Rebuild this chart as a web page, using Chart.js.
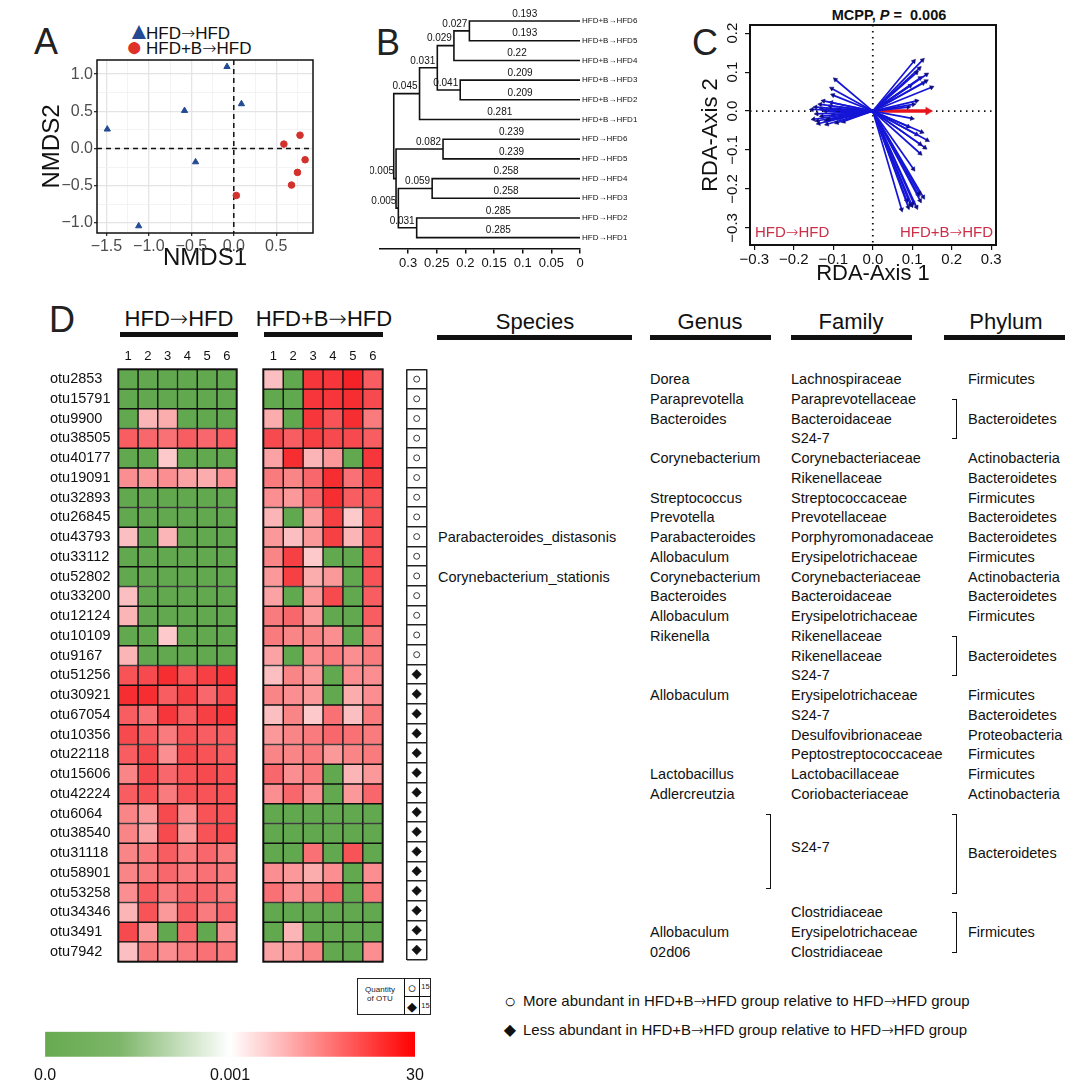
<!DOCTYPE html>
<html>
<head>
<meta charset="utf-8">
<script src="https://cdn.jsdelivr.net/npm/chart.js@4.4.1/dist/chart.umd.min.js"></script>
<style>
  html, body { margin: 0; padding: 0; background: #fff; }
  #page { position: relative; width: 1080px; height: 1092px; overflow: hidden;
          font-family: "Liberation Sans", Arial, "DejaVu Sans", sans-serif; color: #111; }
  #page canvas { position: absolute; }
  .txt { position: absolute; white-space: nowrap; line-height: 1; }
  .arr { font-family: "DejaVu Sans", sans-serif; font-weight: 200; }
  .rule { position: absolute; background: #111; }
  .brk { position: absolute; box-sizing: border-box; border: 1.5px solid #111; border-left: none; width: 5px; }
</style>
</head>
<body>
<div id="page"></div>
<script>
// ---- A: NMDS ----
const nmdsHfdX = [-1.49, -1.12, -0.58, -0.45, -0.08, 0.09];
const nmdsHfdY = [0.26, -1.04, 0.51, -0.18, 1.10, 0.60];
const nmdsHfdbX = [0.03, 0.59, 0.78, 0.84, 0.75, 0.68];
const nmdsHfdbY = [-0.63, 0.06, 0.18, -0.15, -0.32, -0.49];

// ---- B: dendrogram (merges like hclust, leaves 0-11, merge k makes node 12+k) ----
const leafNames = ["HFD+B\u2192HFD6", "HFD+B\u2192HFD5", "HFD+B\u2192HFD4", "HFD+B\u2192HFD3", "HFD+B\u2192HFD2", "HFD+B\u2192HFD1",
  "HFD\u2192HFD6", "HFD\u2192HFD5", "HFD\u2192HFD4", "HFD\u2192HFD3", "HFD\u2192HFD2", "HFD\u2192HFD1"];
const mergeA = [0, 12, 3, 13, 15, 6, 8, 10, 18, 17, 16];
const mergeB = [1, 2, 4, 14, 5, 7, 9, 11, 19, 20, 21];
const branchA = [0.193, 0.027, 0.209, 0.029, 0.031, 0.239, 0.258, 0.285, 0.059, 0.082, 0.045];
const branchB = [0.193, 0.22, 0.209, 0.041, 0.281, 0.239, 0.258, 0.285, 0.031, 0.005, 0.005];

// ---- C: RDA biplot, arrow tips ----
const rdaOtuX = [0.104, 0.126, 0.111, 0.136, 0.135, 0.149, 0.128, 0.120, 0.111, 0.103, 0.090, 0.118, 0.095,
  0.099, 0.124, 0.138, 0.120, 0.132, 0.120, 0.111, 0.103, 0.090,
  0.118, 0.128, 0.120, 0.099, 0.111, 0.090, 0.073, 0.103, 0.086, 0.115, 0.095,
  -0.095, -0.104, -0.101, -0.125, -0.133, -0.154, -0.142, -0.129, -0.112, -0.091, -0.137, -0.116,
  -0.074, -0.150, -0.108, -0.087, -0.120, -0.145, -0.100, -0.130, -0.085, -0.118, -0.140, -0.105];
const rdaOtuY = [0.128, 0.131, 0.099, 0.094, 0.077, 0.061, 0.072, 0.085, 0.026, 0.017, 0.010, 0.110, 0.065,
  -0.019, -0.054, -0.075, -0.085, -0.094, -0.109, -0.060, -0.149, -0.040,
  -0.211, -0.221, -0.230, -0.242, -0.247, -0.247, -0.253, -0.236, -0.230, -0.215, -0.240,
  0.081, 0.058, 0.041, 0.026, 0.017, 0.004, -0.007, -0.013, -0.021, -0.030, -0.032, -0.034,
  -0.027, -0.021, 0.013, 0.000, 0.000, 0.010, -0.010, 0.005, -0.018, -0.025, -0.025, 0.022];
const rdaGroupX = [0.14];
const rdaGroupY = [0.0];

// ---- D: heatmaps ----
const sampleLabels = ["1", "2", "3", "4", "5", "6"];
const otuIds = ["otu2853", "otu15791", "otu9900", "otu38505", "otu40177", "otu19091", "otu32893", "otu26845",
  "otu43793", "otu33112", "otu52802", "otu33200", "otu12124", "otu10109", "otu9167", "otu51256", "otu30921",
  "otu67054", "otu10356", "otu22118", "otu15606", "otu42224", "otu6064", "otu38540", "otu31118", "otu58901",
  "otu53258", "otu34346", "otu3491", "otu7942"];
// colour level: 0 = green, 1..10 = pale pink .. deep red
const hfdHeat = [
  [0, 0, 0, 0, 0, 0], [0, 0, 0, 0, 0, 0], [0, 2, 2.5, 0, 0, 0], [6.5, 6, 5.5, 6.5, 6, 6.5],
  [0, 0, 1, 0, 0, 0], [4, 3.5, 4, 3, 2.5, 4], [0, 0, 0, 0, 0, 0], [0, 0, 0, 0, 0, 0],
  [1.5, 0, 2, 0, 0, 0], [0, 0, 0, 0, 0, 0], [0, 0, 0, 0, 0, 0], [1.5, 0, 0, 0, 0, 0],
  [2, 0, 0, 0, 0, 0], [0, 0, 1, 0, 0, 0], [2, 0, 0, 0, 0, 0], [7, 7.5, 9, 7, 8, 8.5],
  [9, 9, 6.5, 8, 6, 7.5], [6.5, 5.5, 8.5, 6.5, 8, 8.5], [7.5, 6.5, 5, 7, 6.5, 6.5], [6.5, 7.5, 4, 7.5, 7, 6.5],
  [4.5, 7.5, 6, 7, 7.5, 7], [6.5, 7, 5, 7, 7, 7], [4.5, 3.5, 7.5, 4, 7, 7], [4.5, 3, 7.5, 3.5, 7, 7.5],
  [4.5, 5, 6.5, 5, 6, 5], [4.5, 5, 6, 5, 5.5, 5], [4, 6.5, 5, 6, 6, 5], [2, 7, 3.5, 6.5, 5, 6],
  [7.5, 3.5, 0, 6, 0, 4], [1.5, 5, 4, 5, 5.5, 5]];
const hfdbHeat = [
  [1.5, 0, 8.5, 8.5, 9.5, 6.5], [0, 0, 8.5, 8.5, 9, 7.5], [2.5, 0, 8.5, 7, 9, 5], [7.5, 6.5, 8, 7.5, 7.5, 6.5],
  [3, 9, 2, 3.5, 0, 8.5], [5, 4.5, 6, 9, 5.5, 8], [4, 3.5, 6, 9, 6.5, 7], [2, 0, 3, 8, 1, 7],
  [3.5, 1.5, 3.5, 8, 2, 7], [4.5, 8, 1, 0, 0, 7], [3.5, 8, 2.5, 3.5, 0, 7], [3, 0, 3.5, 7.5, 0, 6.5],
  [5, 6, 3.5, 0, 0, 6.5], [5, 4.5, 4.5, 4, 0, 5], [3, 0, 4, 5, 4, 5], [1.5, 4.5, 3.5, 0, 4, 4],
  [4.5, 4, 3.5, 0, 2.5, 4], [1.5, 4.5, 1, 5.5, 1.5, 5], [3.5, 4.5, 5, 6, 5.5, 5], [4.5, 4.5, 5, 3.5, 4.5, 5],
  [6, 4, 5, 0, 2, 3.5], [4, 6, 4, 0, 3.5, 6], [0, 0, 0, 0, 0, 0], [0, 0, 0, 0, 0, 0],
  [0, 0, 5.5, 0, 7, 0], [4, 3.5, 2.5, 4, 0, 4], [5.5, 4, 4.5, 6, 0, 5], [0, 0, 0, 0, 0, 0],
  [0, 2, 0, 0, 0, 0], [3, 3.5, 4.5, 0, 0, 4]];
// true = more abundant in HFD+B->HFD
const moreAbundant = otuIds.map((_, i) => i < 15);

const speciesNames = ["", "", "", "", "", "", "", "", "Parabacteroides_distasonis", "", "Corynebacterium_stationis",
  "", "", "", "", "", "", "", "", "", "", "", "", "", "", "", "", "", "", ""];
const genusNames = ["Dorea", "Paraprevotella", "Bacteroides", "", "Corynebacterium", "", "Streptococcus", "Prevotella",
  "Parabacteroides", "Allobaculum", "Corynebacterium", "Bacteroides", "Allobaculum", "Rikenella", "", "",
  "Allobaculum", "", "", "", "Lactobacillus", "Adlercreutzia", "", "", "", "", "", "", "Allobaculum", "02d06"];
const familyNames = ["Lachnospiraceae", "Paraprevotellaceae", "Bacteroidaceae", "S24-7", "Corynebacteriaceae",
  "Rikenellaceae", "Streptococcaceae", "Prevotellaceae", "Porphyromonadaceae", "Erysipelotrichaceae",
  "Corynebacteriaceae", "Bacteroidaceae", "Erysipelotrichaceae", "Rikenellaceae", "Rikenellaceae", "S24-7",
  "Erysipelotrichaceae", "S24-7", "Desulfovibrionaceae", "Peptostreptococcaceae", "Lactobacillaceae",
  "Coriobacteriaceae", "", "", "", "", "", "Clostridiaceae", "Erysipelotrichaceae", "Clostridiaceae"];
const phylumNames = ["Firmicutes", "", "", "", "Actinobacteria", "Bacteroidetes", "Firmicutes", "Bacteroidetes",
  "Bacteroidetes", "Firmicutes", "Actinobacteria", "Bacteroidetes", "Firmicutes", "", "", "", "Firmicutes",
  "Bacteroidetes", "Proteobacteria", "Firmicutes", "Firmicutes", "Actinobacteria", "", "", "", "", "", "", "", ""];
const familySpans = [[22, 26, "S24-7"]];
const phylumSpans = [[1, 3, "Bacteroidetes"], [13, 15, "Bacteroidetes"], [22, 26, "Bacteroidetes"], [27, 29, "Firmicutes"]];
const colourBarLabels = ["0.0", "0.001", "30"];

// ---------------------------------------------------------------
Chart.defaults.font.family = '"Liberation Sans", Arial, sans-serif';
Chart.defaults.color = "#111";
Chart.defaults.animation = false;
Chart.defaults.responsive = false;
Chart.defaults.plugins.legend.display = false;
Chart.defaults.plugins.tooltip.enabled = false;

const page = document.getElementById("page");

const addText = (html, x, y, size, opts = {}) => {
  const d = document.createElement("div");
  d.className = "txt";
  d.innerHTML = html.replace(/\u2192/g, '<span class="arr">\u2192</span>');
  d.style.left = x + "px";
  d.style.top = y + "px";
  d.style.fontSize = size + "px";
  const ax = opts.align === "center" ? "-50%" : opts.align === "right" ? "-100%" : "0";
  d.style.transform = `translate(${ax}, -50%)`;
  if (opts.weight) d.style.fontWeight = opts.weight;
  if (opts.color) d.style.color = opts.color;
  page.appendChild(d);
  return d;
};
const addRule = (x, y, w, h) => {
  const d = document.createElement("div");
  d.className = "rule";
  Object.assign(d.style, { left: x + "px", top: y + "px", width: w + "px", height: h + "px" });
  page.appendChild(d);
};
const addBracket = (x, y1, y2) => {
  const d = document.createElement("div");
  d.className = "brk";
  Object.assign(d.style, { left: x - 5 + "px", top: y1 + "px", height: y2 - y1 + "px" });
  page.appendChild(d);
};
const addCanvas = (x, y, w, h) => {
  const c = document.createElement("canvas");
  c.width = w;
  c.height = h;
  Object.assign(c.style, { left: x + "px", top: y + "px", width: w + "px", height: h + "px" });
  page.appendChild(c);
  return c;
};

const zip = (xs, ys) => xs.map((x, i) => ({ x, y: ys[i] }));
const minus = (s) => s.replace("-", "\u2212");
const onStep = (v, step) => Math.abs(v / step - Math.round(v / step)) < 1e-6;
const stepTicks = (scale, step) => {
  const out = [];
  for (let v = Math.ceil(scale.min / step - 1e-9) * step; v <= scale.max + 1e-9; v += step) {
    out.push({ value: +v.toFixed(4) });
  }
  scale.ticks = out;
};
// keep vertical axes from pushing the plot area in for their end labels
const noEndPad = (s) => { s.paddingTop = 0; s.paddingBottom = 0; };

const framePlugin = (width) => ({
  id: "frame",
  afterDraw(chart) {
    const { ctx, chartArea: a } = chart;
    ctx.save();
    ctx.strokeStyle = "#111";
    ctx.lineWidth = width;
    ctx.strokeRect(a.left, a.top, a.width, a.height);
    ctx.restore();
  },
});
const zeroLines = (dash, width) => ({
  id: "zeroLines",
  beforeDatasetsDraw(chart) {
    const { ctx, chartArea: a, scales: { x, y } } = chart;
    const px = x.getPixelForValue(0);
    const py = y.getPixelForValue(0);
    ctx.save();
    ctx.setLineDash(dash);
    ctx.lineWidth = width;
    ctx.strokeStyle = "#111";
    ctx.beginPath();
    ctx.moveTo(px, a.top);
    ctx.lineTo(px, a.bottom);
    ctx.moveTo(a.left, py);
    ctx.lineTo(a.right, py);
    ctx.stroke();
    ctx.restore();
  },
});

// ================= A =================
addText("A", 34, 42, 36, { color: "#222" });
addText('<span style="color:#234a92;font-size:24px">\u25B2</span>', 127, 31, 16);
addText("HFD\u2192HFD", 146, 33, 17);
addText('<span style="color:#e0302a;font-size:28px">\u25CF</span>', 126, 47, 16);
addText("HFD+B\u2192HFD", 146, 48, 17);

const minorGrid = (c) => c.tick && !onStep(c.tick.value, 0.5);
new Chart(addCanvas(30, 55, 290, 218), {
  type: "scatter",
  data: {
    datasets: [
      { data: zip(nmdsHfdX, nmdsHfdY), pointStyle: "triangle", pointRadius: 3.6,
        backgroundColor: "#234a92", borderColor: "#234a92", borderWidth: 1 },
      { data: zip(nmdsHfdbX, nmdsHfdbY), pointStyle: "circle", pointRadius: 3.3,
        backgroundColor: "#d2322d", borderColor: "#d2322d", borderWidth: 1 },
    ],
  },
  options: {
    layout: { padding: { top: 5, right: 7 } },
    scales: {
      x: {
        type: "linear", min: -1.611, max: 0.933,
        afterBuildTicks: (s) => stepTicks(s, 0.25),
        ticks: { callback: (v) => (onStep(v, 0.5) ? minus(v.toFixed(1)) : ""), color: "#4d4d4d",
                 font: { size: 16 }, padding: 1, autoSkip: false, maxRotation: 0 },
        grid: { color: (c) => (minorGrid(c) ? "#f0f0f0" : "#e4e4e4"), lineWidth: (c) => (minorGrid(c) ? 0.8 : 1.3),
                tickColor: (c) => (minorGrid(c) ? "rgba(0,0,0,0)" : "#333"), tickLength: 3 },
        border: { display: false },
        title: { display: true, text: "NMDS1", font: { size: 24 }, padding: { top: 0, bottom: 0 } },
        afterFit: (s) => { s.height = 40; },
      },
      y: {
        type: "linear", min: -1.134, max: 1.19,
        afterBuildTicks: (s) => stepTicks(s, 0.25),
        ticks: { callback: (v) => (onStep(v, 0.5) ? minus(v.toFixed(1)) : ""), color: "#4d4d4d",
                 font: { size: 16 }, padding: 1, autoSkip: false },
        grid: { color: (c) => (minorGrid(c) ? "#f0f0f0" : "#e4e4e4"), lineWidth: (c) => (minorGrid(c) ? 0.8 : 1.3),
                tickColor: (c) => (minorGrid(c) ? "rgba(0,0,0,0)" : "#333"), tickLength: 3 },
        border: { display: false },
        title: { display: true, text: "NMDS2", font: { size: 24 }, padding: { top: 8, bottom: 0 } },
        afterFit: (s) => { s.width = 67; noEndPad(s); },
      },
    },
  },
  plugins: [zeroLines([5, 4], 1.5), framePlugin(1.5)],
});

// ================= B =================
addText("B", 376, 43, 36, { color: "#222" });

const nodeH = leafNames.map(() => 0);
const nodeY = leafNames.map((_, i) => i);
mergeA.forEach((a, k) => {
  nodeH.push(nodeH[a] + branchA[k]);
  nodeY.push((nodeY[a] + nodeY[mergeB[k]]) / 2);
});

const branchLabels = {
  id: "branchLabels",
  afterDatasetsDraw(chart) {
    const { ctx, scales: { x, y } } = chart;
    ctx.save();
    ctx.font = '10px "Liberation Sans", Arial, sans-serif';
    ctx.fillStyle = "#111";
    ctx.textBaseline = "bottom";
    mergeA.forEach((a, k) => {
      const n = leafNames.length + k;
      [[a, branchA[k]], [mergeB[k], branchB[k]]].forEach(([c, len]) => {
        const py = y.getPixelForValue(nodeY[c]) - 2;
        if (c < leafNames.length) {
          ctx.textAlign = "center";
          ctx.fillText(String(len), (x.getPixelForValue(nodeH[n]) + x.getPixelForValue(0)) / 2, py);
        } else {
          ctx.textAlign = "right";
          ctx.fillText(String(len), x.getPixelForValue(nodeH[c]) - 2, py);
        }
      });
    });
    ctx.restore();
  },
};

new Chart(addCanvas(370, 5, 280, 270), {
  type: "scatter",
  data: {
    datasets: mergeA.map((a, k) => {
      const b = mergeB[k];
      const n = leafNames.length + k;
      return {
        data: [
          { x: nodeH[a], y: nodeY[a] }, { x: nodeH[n], y: nodeY[a] },
          { x: nodeH[n], y: nodeY[b] }, { x: nodeH[b], y: nodeY[b] },
        ],
        showLine: true, borderColor: "#111", borderWidth: 1.6, pointRadius: 0,
      };
    }),
  },
  options: {
    layout: { padding: { left: 10, top: 6.2 } },
    scales: {
      x: {
        type: "linear", min: 0, max: 0.349, reverse: true,
        ticks: { stepSize: 0.05, includeBounds: false, callback: (v) => String(+v.toFixed(2)),
                 font: { size: 13 }, padding: 2, maxRotation: 0, autoSkip: false },
        grid: { display: true, drawOnChartArea: false, tickLength: 5, color: "#111", lineWidth: 1.5 },
        border: { display: true, color: "#111", width: 1.5 },
        afterFit: (s) => { s.height = 26.5; },
      },
      y: {
        type: "linear", position: "right", min: -0.5, max: 11.55, reverse: true,
        afterBuildTicks: (s) => { s.ticks = leafNames.map((_, i) => ({ value: i })); },
        ticks: { callback: (v) => leafNames[v], font: { size: 8 }, padding: 2, autoSkip: false },
        grid: { display: false, drawTicks: false },
        border: { display: false },
        afterFit: (s) => { s.width = 70; noEndPad(s); },
      },
    },
  },
  plugins: [branchLabels],
});

// ================= C =================
addText("C", 692, 43, 36, { color: "#222" });
addText("MCPP, <i>P</i> =&nbsp; 0.006", 889, 15, 14.5, { align: "center", weight: "bold" });

const arrow = (x, y, line, head, width, size) => ({
  data: [{ x: 0, y: 0 }, { x, y }],
  showLine: true, borderColor: line, borderWidth: width,
  pointStyle: "triangle", pointRadius: [0, size],
  pointRotation: [0, (Math.atan2(x, y) * 180) / Math.PI],
  pointBackgroundColor: head, pointBorderColor: head, pointBorderWidth: 0.5,
});

new Chart(addCanvas(690, 20, 320, 270), {
  type: "scatter",
  data: {
    datasets: [
      ...rdaOtuX.map((x, i) => arrow(x, rdaOtuY[i], "#1515d6", "#0d0d80", 1.7, 2.6)),
      ...rdaGroupX.map((x, i) => arrow(x, rdaGroupY[i], "#e8141c", "#e8141c", 3.5, 4.5)),
    ],
  },
  options: {
    layout: { padding: { top: 3.3, right: 14 } },
    scales: {
      x: {
        type: "linear", min: -0.311, max: 0.312,
        afterBuildTicks: (s) => stepTicks(s, 0.1),
        ticks: { callback: (v) => minus(v.toFixed(1)), font: { size: 15 }, padding: 1, maxRotation: 0, autoSkip: false },
        grid: { display: true, drawOnChartArea: false, tickLength: 5, color: "#111", lineWidth: 1.2 },
        border: { display: false },
        title: { display: true, text: "RDA-Axis 1", font: { size: 22 }, padding: { top: 0, bottom: 3 } },
        afterFit: (s) => { s.height = 45; },
      },
      y: {
        type: "linear", min: -0.344, max: 0.221,
        afterBuildTicks: (s) => stepTicks(s, 0.1),
        ticks: { callback: (v) => minus(v.toFixed(1)), font: { size: 15 }, padding: -3, minRotation: 90,
                 maxRotation: 90, crossAlign: "center", autoSkip: false },
        grid: { display: true, drawOnChartArea: false, tickLength: 5, color: "#111", lineWidth: 1.2 },
        border: { display: false },
        title: { display: true, text: "RDA-Axis 2", font: { size: 22 }, padding: { top: 8, bottom: 0 } },
        afterFit: (s) => { s.width = 60; noEndPad(s); },
      },
    },
  },
  plugins: [zeroLines([1.5, 4.5], 1.8), framePlugin(2)],
});
addText("HFD\u2192HFD", 755, 232, 15, { color: "#cc2e48" });
addText("HFD+B\u2192HFD", 993, 232, 15, { color: "#cc2e48", align: "right" });

// ================= D =================
addText("D", 49, 320, 36, { color: "#222" });
addText("HFD\u2192HFD", 179, 319, 22, { align: "center" });
addRule(120, 332, 118, 5);
addText("HFD+B\u2192HFD", 324, 319, 22, { align: "center" });
addRule(264, 332, 119, 5);
addText("Species", 535, 322, 22, { align: "center" });
addRule(437, 335, 195, 4.5);
addText("Genus", 710, 322, 22, { align: "center" });
addRule(650, 335, 121, 4.5);
addText("Family", 851, 322, 22, { align: "center" });
addRule(791, 335, 121, 4.5);
addText("Phylum", 1006, 322, 22, { align: "center" });
addRule(944, 335, 121, 4.5);

const heatGreen = [98, 168, 78];
const heatRed = [245, 25, 30];
const heatColour = (v) => {
  if (v === 0) return `rgb(${heatGreen.join(",")})`;
  const t = Math.min(1, 0.15 + 0.085 * v);
  return `rgb(${heatRed.map((c) => Math.round(255 + (c - 255) * t)).join(",")})`;
};

const drawHeatmap = (canvas, heat, rowLabels, padLeft) =>
  new Chart(canvas, {
    type: "bar",
    data: {
      labels: otuIds,
      datasets: sampleLabels.map((s, c) => ({
        data: otuIds.map(() => 1),
        backgroundColor: heat.map((row) => heatColour(row[c])),
        borderColor: "#111", borderWidth: 1, borderSkipped: false,
        barPercentage: 1, categoryPercentage: 1,
      })),
    },
    options: {
      indexAxis: "y",
      layout: { padding: { left: padLeft, right: 5.3, bottom: 3.3 } },
      scales: {
        x: {
          type: "linear", position: "top", stacked: true, min: 0, max: 6,
          afterBuildTicks: (s) => { s.ticks = sampleLabels.map((_, i) => ({ value: i + 0.5 })); },
          ticks: { callback: (v, i) => sampleLabels[i], font: { size: 13 }, padding: 5, maxRotation: 0, autoSkip: false },
          grid: { display: false, drawTicks: false },
          border: { display: false },
          afterFit: (s) => { s.height = 24.3; },
        },
        y: {
          stacked: true, display: rowLabels,
          ticks: { font: { size: 14.5 }, crossAlign: "far", autoSkip: false, padding: 0 },
          grid: { display: false, drawTicks: false },
          border: { display: false },
          afterFit: (s) => { if (rowLabels) s.width = 68.3; noEndPad(s); },
        },
      },
    },
    plugins: [framePlugin(2)],
  });

const heatLeft = drawHeatmap(addCanvas(50, 345, 192, 620), hfdHeat, true, 0);
drawHeatmap(addCanvas(258, 345, 130, 620), hfdbHeat, false, 5.3);

// symbol column
new Chart(addCanvas(400, 345, 34, 620), {
  type: "scatter",
  data: {
    datasets: [
      { data: otuIds.map((_, i) => i).filter((i) => moreAbundant[i]).map((i) => ({ x: 0.5, y: i })),
        pointStyle: "circle", pointRadius: 3, backgroundColor: "#fff", borderColor: "#222", borderWidth: 0.9 },
      { data: otuIds.map((_, i) => i).filter((i) => !moreAbundant[i]).map((i) => ({ x: 0.5, y: i })),
        pointStyle: "rectRot", pointRadius: 4.8, backgroundColor: "#111", borderColor: "#111", borderWidth: 0.5 },
    ],
  },
  options: {
    layout: { padding: { left: 6.7, right: 7.3, top: 24.3, bottom: 3.3 } },
    scales: {
      x: {
        type: "linear", min: 0, max: 1,
        afterBuildTicks: (s) => { s.ticks = [{ value: 0 }, { value: 1 }]; },
        ticks: { display: false },
        grid: { color: "#222", lineWidth: 1.5, drawTicks: false },
        border: { display: false },
      },
      y: {
        type: "linear", min: -0.5, max: 29.5, reverse: true,
        afterBuildTicks: (s) => { s.ticks = [-1, ...otuIds.map((_, i) => i)].map((i) => ({ value: i + 0.5 })); },
        ticks: { display: false },
        grid: { color: "#222", lineWidth: 1.5, drawTicks: false },
        border: { display: false },
        afterFit: noEndPad,
      },
    },
  },
});

// taxonomy table, rows follow the heatmap's own y scale
const rowY = (i) => 345 + heatLeft.scales.y.getPixelForValue(i);
otuIds.forEach((_, i) => {
  if (speciesNames[i]) addText(speciesNames[i], 438, rowY(i), 14.5);
  if (genusNames[i]) addText(genusNames[i], 650, rowY(i), 14.5);
  if (familyNames[i]) addText(familyNames[i], 791, rowY(i), 14.5);
  if (phylumNames[i]) addText(phylumNames[i], 968, rowY(i), 14.5);
});
familySpans.forEach(([a, b, name]) => {
  addBracket(771, rowY(a), rowY(b) - 4);
  addText(name, 791, rowY((a + b) / 2) - 6, 14.5);
});
phylumSpans.forEach(([a, b, name]) => {
  addBracket(957, rowY(a), rowY(b) + 1);
  addText(name, 968, (rowY(a) + rowY(b)) / 2, 14.5);
});

// quantity box
const nMore = moreAbundant.filter(Boolean).length;
const nLess = moreAbundant.length - nMore;
const qBox = document.createElement("div");
Object.assign(qBox.style, { position: "absolute", left: "357px", top: "978px", width: "74px", height: "37px",
  border: "1.5px solid #222", boxSizing: "border-box" });
page.appendChild(qBox);
addRule(404, 978, 1.2, 37);
addRule(419, 978, 1.2, 37);
addRule(404, 996, 27, 1.2);
addText("Quantity", 380, 990, 8, { align: "center", color: "#222" });
addText("of OTU", 380, 999, 8, { align: "center", color: "#222" });
addText("\u25CB", 412, 987, 15, { align: "center" });
addText("\u25C6", 412, 1006, 13, { align: "center" });
addText(String(nMore), 425.5, 987, 7.5, { align: "center", color: "#222" });
addText(String(nLess), 425.5, 1006, 7.5, { align: "center", color: "#222" });

addText("\u25CB", 510, 1001, 20, { align: "center" });
addText("More abundant in HFD+B\u2192HFD group relative to HFD\u2192HFD group", 523, 1001, 15);
addText("\u25C6", 510, 1030, 16, { align: "center" });
addText("Less abundant in HFD+B\u2192HFD group relative to HFD\u2192HFD group", 523, 1030, 15);

// colour bar
new Chart(addCanvas(25, 1025, 410, 65), {
  type: "bar",
  data: {
    labels: [""],
    datasets: [{
      data: [1],
      barPercentage: 1, categoryPercentage: 1,
      backgroundColor: (ctx) => {
        const a = ctx.chart.chartArea;
        if (!a) return heatColour(0);
        const g = ctx.chart.ctx.createLinearGradient(a.left, 0, a.right, 0);
        g.addColorStop(0, "rgb(102,170,80)");
        g.addColorStop(0.2, "rgb(125,182,105)");
        g.addColorStop(0.5, "#ffffff");
        g.addColorStop(1, "rgb(255,0,0)");
        return g;
      },
    }],
  },
  options: {
    indexAxis: "y",
    layout: { padding: { left: 18, right: 20, top: 6.7 } },
    scales: {
      x: {
        type: "linear", min: 0, max: 1,
        afterBuildTicks: (s) => { s.ticks = colourBarLabels.map((_, i) => ({ value: i / (colourBarLabels.length - 1) })); },
        ticks: { callback: (v, i) => colourBarLabels[i], font: { size: 16 }, padding: 9, maxRotation: 0, autoSkip: false },
        grid: { display: false, drawTicks: false },
        border: { display: false },
        afterFit: (s) => { s.height = 33.3; },
      },
      y: { display: false },
    },
  },
});
</script>
</body>
</html>
